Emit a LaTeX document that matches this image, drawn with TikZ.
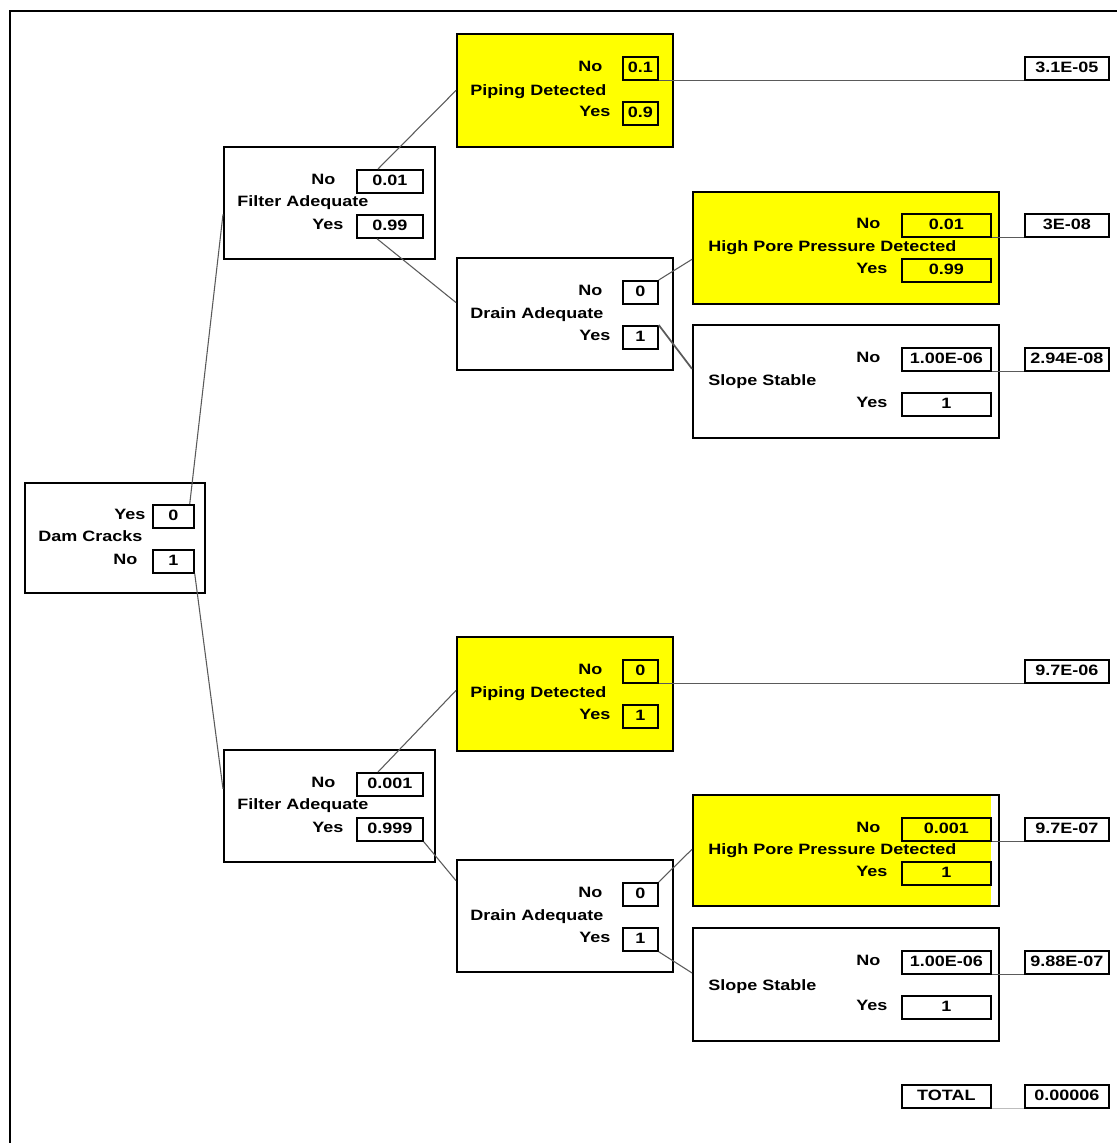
\documentclass[tikz,border=0pt]{standalone}
\usepackage{fontspec}
\setmainfont{Liberation Sans}[FakeStretch=1.2]
\usetikzlibrary{calc}
\definecolor{ylw}{HTML}{FFFF00}
\definecolor{lnc}{HTML}{5A5A5A}
\begin{document}
\begin{tikzpicture}[x=0.75pt,y=-0.75pt,
  font=\fontsize{11.25}{13}\selectfont\bfseries,
  dbox/.style={draw=black,line width=1.4pt,anchor=north west,inner sep=0pt,minimum height=84pt},
  vbox/.style={draw=black,line width=1.3pt,anchor=north west,inner sep=0pt,minimum height=17.25pt,text height=1.5ex,text depth=0.25ex},
  lbl/.style={anchor=west,inner sep=0pt,text height=1.5ex,text depth=0.25ex},
  conn/.style={draw=lnc,line width=0.8pt}]
\useasboundingbox (0,0) rectangle (1117,1143);
\clip (0,0) rectangle (1117,1143);
\fill[white] (0,0) rectangle (1117,1143);
\draw[line width=1.4pt] (10,1170) -- (10,11) -- (1140,11);

% ---------- Dam Cracks ----------
\node[dbox,minimum width=135pt,minimum height=82.5pt] (dam) at (24,482) {};
\node[vbox,minimum width=30.75pt] (dY) at (152,504) {0};
\node[vbox,minimum width=30.75pt] (dN) at (152,549) {1};
\node[lbl] (dYl) at (114,515.5) {Yes};
\node[lbl] (dNl) at (113,560.5) {No};
\node[lbl] (damt) at (38,537) {Dam Cracks};

% ---------- Filter Adequate (upper) ----------
\node[dbox,minimum width=158.25pt] (f1) at (223,146) {};
\node[vbox,minimum width=49.5pt] (f1N) at (356,169) {0.01};
\node[vbox,minimum width=49.5pt] (f1Y) at (356,214) {0.99};
\node[lbl] (f1Nl) at (311,180) {No};
\node[lbl] (f1Yl) at (312,225) {Yes};
\node[lbl] (f1t) at (237,202) {Filter Adequate};

% ---------- Filter Adequate (lower) ----------
\node[dbox,minimum width=158.25pt] (f2) at (223,749) {};
\node[vbox,minimum width=49.5pt] (f2N) at (356,772) {0.001};
\node[vbox,minimum width=49.5pt] (f2Y) at (356,817) {0.999};
\node[lbl] (f2Nl) at (311,783) {No};
\node[lbl] (f2Yl) at (312,828) {Yes};
\node[lbl] (f2t) at (237,805) {Filter Adequate};

% ---------- Piping Detected (upper) ----------
\node[dbox,fill=ylw,minimum width=162pt,minimum height=84.75pt] (p1) at (456,33) {};
\node[vbox,minimum width=26.25pt] (p1N) at (622,56) {0.1};
\node[vbox,minimum width=26.25pt] (p1Y) at (622,101) {0.9};
\node[lbl] (p1Nl) at (578,67.5) {No};
\node[lbl] (p1Yl) at (579,112.5) {Yes};
\node[lbl] (p1t) at (470,91) {Piping Detected};

% ---------- Drain Adequate (upper) ----------
\node[dbox,minimum width=162pt] (d1) at (456,257) {};
\node[vbox,minimum width=26.25pt] (d1N) at (622,280) {0};
\node[vbox,minimum width=26.25pt] (d1Y) at (622,325) {1};
\node[lbl] (d1Nl) at (578,291.5) {No};
\node[lbl] (d1Yl) at (579,336.5) {Yes};
\node[lbl] (d1t) at (470,314) {Drain Adequate};

% ---------- Piping Detected (lower) ----------
\node[dbox,fill=ylw,minimum width=162pt,minimum height=85.5pt] (p2) at (456,636) {};
\node[vbox,minimum width=26.25pt] (p2N) at (622,659) {0};
\node[vbox,minimum width=26.25pt] (p2Y) at (622,704) {1};
\node[lbl] (p2Nl) at (578,670.5) {No};
\node[lbl] (p2Yl) at (579,715.5) {Yes};
\node[lbl] (p2t) at (470,693) {Piping Detected};

% ---------- Drain Adequate (lower) ----------
\node[dbox,minimum width=162pt] (d2) at (456,859) {};
\node[vbox,minimum width=26.25pt] (d2N) at (622,882) {0};
\node[vbox,minimum width=26.25pt] (d2Y) at (622,927) {1};
\node[lbl] (d2Nl) at (578,893.5) {No};
\node[lbl] (d2Yl) at (579,938.5) {Yes};
\node[lbl] (d2t) at (470,916) {Drain Adequate};

% ---------- High Pore Pressure Detected (upper) ----------
\node[dbox,fill=ylw,minimum width=229.5pt] (h1) at (692,191) {};
\node[vbox,minimum width=66.75pt] (h1N) at (901,213) {0.01};
\node[vbox,minimum width=66.75pt] (h1Y) at (901,258) {0.99};
\node[lbl] (h1Nl) at (856,224.5) {No};
\node[lbl] (h1Yl) at (856,269.5) {Yes};
\node[lbl] (h1t) at (708,247) {High Pore Pressure Detected};

% ---------- Slope Stable (upper) ----------
\node[dbox,minimum width=229.5pt,minimum height=84.75pt] (s1) at (692,324) {};
\node[vbox,minimum width=66.75pt] (s1N) at (901,347) {1.00E-06};
\node[vbox,minimum width=66.75pt] (s1Y) at (901,392) {1};
\node[lbl] (s1Nl) at (856,358.5) {No};
\node[lbl] (s1Yl) at (856,403.5) {Yes};
\node[lbl] (s1t) at (708,381) {Slope Stable};

% ---------- High Pore Pressure Detected (lower) ----------
\node[dbox,minimum width=229.5pt,minimum height=83.25pt,
  path picture={\fill[ylw] (path picture bounding box.north west) rectangle ([xshift=-6pt]path picture bounding box.south east);}] (h2) at (692,794) {};
\node[vbox,minimum width=66.75pt] (h2N) at (901,817) {0.001};
\node[vbox,minimum width=66.75pt] (h2Y) at (901,861) {1};
\node[lbl] (h2Nl) at (856,828.5) {No};
\node[lbl] (h2Yl) at (856,872.5) {Yes};
\node[lbl] (h2t) at (708,850) {High Pore Pressure Detected};

% ---------- Slope Stable (lower) ----------
\node[dbox,minimum width=229.5pt,minimum height=84.75pt] (s2) at (692,927) {};
\node[vbox,minimum width=66.75pt] (s2N) at (901,950) {1.00E-06};
\node[vbox,minimum width=66.75pt] (s2Y) at (901,995) {1};
\node[lbl] (s2Nl) at (856,961.5) {No};
\node[lbl] (s2Yl) at (856,1006.5) {Yes};
\node[lbl] (s2t) at (708,986) {Slope Stable};

% ---------- Results ----------
\node[vbox,minimum width=63pt] (r1) at (1024,56) {3.1E-05};
\node[vbox,minimum width=63pt] (r2) at (1024,213) {3E-08};
\node[vbox,minimum width=63pt] (r3) at (1024,347) {2.94E-08};
\node[vbox,minimum width=63pt] (r4) at (1024,659) {9.7E-06};
\node[vbox,minimum width=63pt] (r5) at (1024,817) {9.7E-07};
\node[vbox,minimum width=63pt] (r6) at (1024,950) {9.88E-07};
\node[vbox,minimum width=66.75pt] (tot) at (901,1084) {TOTAL};
\node[vbox,minimum width=63pt] (r7) at (1024,1084) {0.00006};

% ---------- Connectors ----------
\draw[conn] ([xshift=-3.75pt]dY.north east) -- ($(f1.north west)!0.6!(f1.south west)$);
\draw[conn] (dN.south east) -- ($(f2.north west)!0.35!(f2.south west)$);
\draw[conn] ([xshift=16.5pt]f1N.north west) -- ($(p1.north west)!0.5!(p1.south west)$);
\draw[conn] ([xshift=15.75pt]f1Y.south west) -- ($(d1.north west)!0.4!(d1.south west)$);
\draw[conn] ([xshift=16.5pt]f2N.north west) -- ($(p2.north west)!0.47!(p2.south west)$);
\draw[conn] (f2Y.south east) -- ($(d2.north west)!0.19!(d2.south west)$);
\draw[conn] (d1N.north east) -- ($(h1.north west)!0.6!(h1.south west)$);
\draw[conn,line width=1.3pt] (d1Y.north east) -- ($(s1.north west)!0.39!(s1.south west)$);
\draw[conn] (d2N.north east) -- ($(h2.north west)!0.49!(h2.south west)$);
\draw[conn] (d2Y.south east) -- ($(s2.north west)!0.4!(s2.south west)$);
\draw[conn] (p1N.south east) -- (r1.south west);
\draw[conn] (h1N.south east) -- (r2.south west);
\draw[conn] (s1N.south east) -- (r3.south west);
\draw[conn] (p2N.south east) -- (r4.south west);
\draw[conn] (h2N.south east) -- (r5.south west);
\draw[conn] (s2N.south east) -- (r6.south west);
\draw[conn,draw=lnc!40] (tot.south east) -- (r7.south west);
\end{tikzpicture}
\end{document}
